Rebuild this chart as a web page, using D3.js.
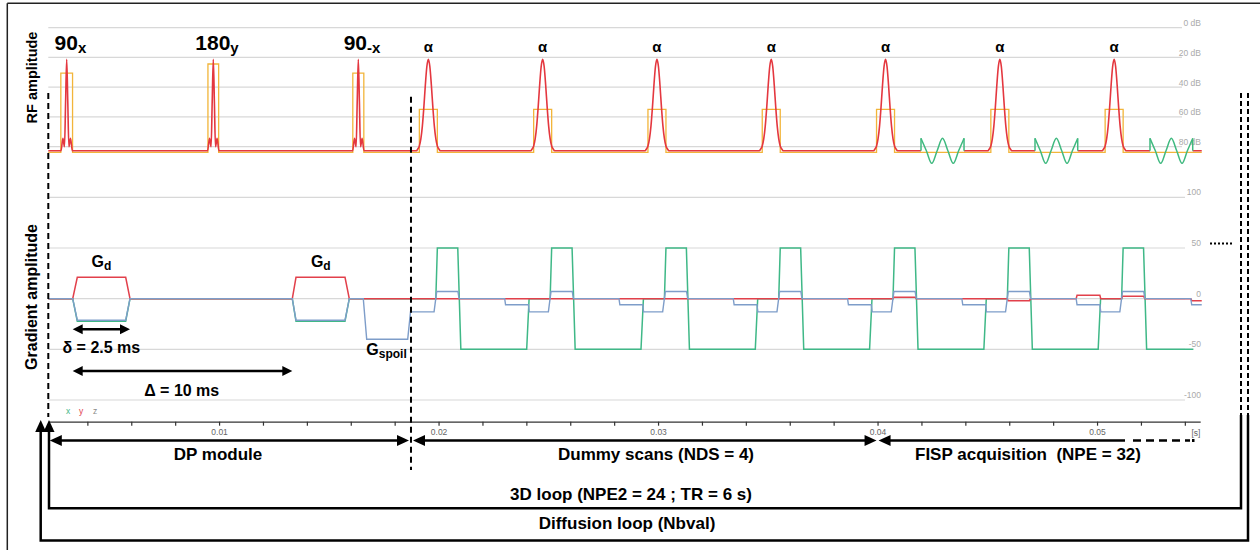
<!DOCTYPE html>
<html><head><meta charset="utf-8">
<script src="https://cdn.jsdelivr.net/npm/d3@7/dist/d3.min.js"></script>
<style>
body{margin:0;background:#fff;}
svg{display:block;font-family:"Liberation Sans",Arial,sans-serif;}
</style></head><body>
<svg id="c" width="1260" height="550"></svg>
<script>
// ================= DATA =================
const timeRange = [0.00222, 0.05470];          // s, visible time window
const timeTicks = [0.004,0.006,0.008,0.010,0.012,0.014,0.016,0.018,0.020,0.022,0.024,0.026,0.028,
                   0.030,0.032,0.034,0.036,0.038,0.040,0.042,0.044,0.046,0.048,0.050,0.052,0.054];
const timeTickLabels = ["","","","0.01","","","","","0.02","","","","","0.03","","","","","0.04","","","","","0.05","",""];
const rfDbTicks = [0,20,40,60,80];
const gradTicks = [100,50,0,-50,-100];

const rfBaseDb = 82.7;       // RF baseline
const gateBaseDb = 83.8;     // gate (orange) baseline
const rfEnd = 0.05477;

// DP module pulses
const dpPulseTimes = [0.003058, 0.009737, 0.016344];
const dpPulseMain = ["90","180","90"];
const dpPulseSub = ["x","y","-x"];
const dpGateTopDb = [30.5, 24.4, 30.5];
const dpGateHalf = [0.000267, 0.000244, 0.000251];
// hard pulse shape (ms offset, dB)
const sincShape = [[-0.26,82.7],[-0.173,74.4],[-0.10,80],[-0.05,50],[0,21.2],[0.05,50],[0.10,80],[0.173,74.4],[0.26,82.7]];

// alpha pulses (dummy + FISP)
const alphaTimes = [0.019535,0.024743,0.029950,0.035157,0.040364,0.045572,0.050779];
const alphaGateTopDb = 54.9;
const alphaGateHalf = 0.00041;
const gaussShape = [[-0.55,82.7],[-0.478,81.5],[-0.41,79.5],[-0.342,74.8],[-0.273,66.2],[-0.205,53.4],[-0.137,38.5],[-0.068,26.1],[0,21.2],
                    [0.068,26.1],[0.137,38.5],[0.205,53.4],[0.273,66.2],[0.342,74.8],[0.41,79.5],[0.478,81.5],[0.55,82.7]];

// ADC windows (FISP acquisition) and their wave (fraction of window, dB)
const adcWindows = [[0.04198,0.04394],[0.047174,0.04912],[0.052413,0.054359]];
const adcWave = [[0,74.4],[0.125,82.7],[0.25,91.2],[0.375,82.7],[0.5,74.4],[0.625,82.7],[0.75,91.2],[0.875,82.7],[1,74.4]];

// Gradients (diffusion lobes Gd)
const gdTimes = [[0.003332,0.003541,0.005746,0.005942],[0.013337,0.013505,0.015738,0.015933]];
const gdAmpX = -22.3, gdAmpY = 21, gdAmpZ = -21.3;
// spoiler
const spoilTimes = [0.016571,0.016726,0.018594,0.018722];
const spoilAmp = -40;
const sliceAmp = -13, rephaseAmp = 7;
// per-TR lobes
const zPre = [null,-6,-6,-6,-6,-6,-6];
const yPre = [0,0,0,0,0,0,3.3];
const yPost = [0,0,0,0,1.5,-2,2.3];
// readout template: ms from alpha, amplitude
const readTemplate = [[0.34,0],[0.41,50],[1.34,50],[1.48,-50],[4.48,-50],[4.59,0]];
const tailTimes = [0.054272,0.054313];
const tailZ = -6, tailY = -2;
const gradEnd = 0.05477, readEnd = 0.05439;
const dpEnd = 0.018744;       // end of DP module
const fispStart = 0.040;

// ================= DRAW =================
const ms = 1e-3;
const svg = d3.select("#c");
const x = d3.scaleLinear().domain(timeRange).range([48.3, 1200.2]);
const yRF = d3.scaleLinear().domain([0, 80]).range([27.7, 146.7]);
const yG = d3.scaleLinear().domain([-100, 100]).range([400, 197.3]);

const C = {rf:"#e4373f", gate:"#f2b53a", adc:"#3fb97f", gx:"#3fb887", gy:"#e2404b", gz:"#7e9dc9", grid:"#d8d8d8", lab:"#aaaaaa"};

// frame
svg.append("line").attr("x1",7.3).attr("x2",1260).attr("y1",3.3).attr("y2",3.3).attr("stroke","#222").attr("stroke-width",1.5);
svg.append("line").attr("x1",7.3).attr("x2",7.3).attr("y1",3.3).attr("y2",550).attr("stroke","#222").attr("stroke-width",1.5);

// grids
const grid = svg.append("g");
rfDbTicks.forEach(d => {
  grid.append("line").attr("x1",x.range()[0]).attr("x2",1182).attr("y1",yRF(d)).attr("y2",yRF(d))
    .attr("stroke",C.grid).attr("stroke-width",1.2);
  grid.append("text").attr("x",1201).attr("y",yRF(d)-1.5).attr("text-anchor","end")
    .attr("font-size",8.5).attr("fill",C.lab).text(d+" dB");
});
gradTicks.forEach(d => {
  grid.append("line").attr("x1",x.range()[0]).attr("x2",1185).attr("y1",yG(d)).attr("y2",yG(d))
    .attr("stroke",C.grid).attr("stroke-width",1.2);
  grid.append("text").attr("x",1201).attr("y",yG(d)-2).attr("text-anchor","end")
    .attr("font-size",8.5).attr("fill",C.lab).text(d);
});

// x axis
const ax = svg.append("g").attr("transform","translate(0,421.7)")
  .call(d3.axisBottom(x).tickValues(timeTicks).tickFormat((d,i)=>timeTickLabels[i]).tickSizeInner(4).tickSizeOuter(0).tickPadding(3));
ax.select(".domain").attr("stroke","#333").attr("stroke-width",1.3);
ax.selectAll(".tick line").attr("stroke","#333").attr("stroke-width",1.2);
ax.selectAll(".tick text").attr("font-size",8.5).attr("fill","#666").attr("font-family","Liberation Sans, Arial, sans-serif");
svg.append("text").attr("x",1196).attr("y",436).attr("text-anchor","middle").attr("font-size",8.5).attr("fill","#666").text("[s]");

// legend x y z
[["x",C.gx,68],["y",C.gy,81],["z","#888",95]].forEach(([t,c,px]) =>
  svg.append("text").attr("x",px).attr("y",414).attr("text-anchor","middle").attr("font-size",8.5).attr("fill",c).text(t));

// ---------- RF ----------
const pulses = dpPulseTimes.map((t,i)=>({t, shape:sincShape, top:dpGateTopDb[i], half:dpGateHalf[i]}))
  .concat(alphaTimes.map(t=>({t, shape:gaussShape, top:alphaGateTopDb, half:alphaGateHalf})));
// gate line
const gatePts = [[timeRange[0], gateBaseDb]];
pulses.forEach(p => gatePts.push([p.t-p.half,gateBaseDb],[p.t-p.half,p.top],[p.t+p.half,p.top],[p.t+p.half,gateBaseDb]));
gatePts.push([rfEnd, gateBaseDb]);
svg.append("path").attr("d", d3.line().x(d=>x(d[0])).y(d=>yRF(d[1]))(gatePts))
  .attr("fill","none").attr("stroke",C.gate).attr("stroke-width",1.3);

// red RF with gaps at ADC
const events = pulses.map(p=>({t:p.t, type:"p", p})).concat(adcWindows.map(w=>({t:w[0], type:"a", w}))).sort((a,b)=>a.t-b.t);
const rfPts = [[timeRange[0], rfBaseDb]];
events.forEach(e => {
  if (e.type==="p") e.p.shape.forEach(([dt,v]) => rfPts.push([e.p.t+dt*ms, v]));
  else { rfPts.push([e.w[0], rfBaseDb], null, [e.w[1], rfBaseDb]); }
});
rfPts.push([rfEnd, rfBaseDb]);
svg.append("path").attr("d", d3.line().defined(d=>d).x(d=>x(d[0])).y(d=>yRF(d[1])).curve(d3.curveMonotoneX)(rfPts))
  .attr("fill","none").attr("stroke",C.rf).attr("stroke-width",1.6);

// ADC
adcWindows.forEach(w => {
  const pts = adcWave.map(([f,v]) => [w[0]+f*(w[1]-w[0]), v]);
  svg.append("path").attr("d", d3.line().x(d=>x(d[0])).y(d=>yRF(d[1])).curve(d3.curveMonotoneX)(pts))
    .attr("fill","none").attr("stroke",C.adc).attr("stroke-width",1.5);
  [w[0],w[1]].forEach(t => svg.append("line").attr("x1",x(t)).attr("x2",x(t)).attr("y1",yRF(rfBaseDb)).attr("y2",yRF(74.4))
    .attr("stroke",C.adc).attr("stroke-width",1.5));
});

// ---------- Gradients ----------
function clip(pts, tEnd){
  const out=[];
  for (let i=0;i<pts.length;i++){
    if (pts[i][0] <= tEnd) out.push(pts[i]);
    else { const p=pts[i-1], q=pts[i]; out.push([tEnd, p[1]+(q[1]-p[1])*(tEnd-p[0])/(q[0]-p[0])]); return out; }
  }
  out.push([tEnd, out[out.length-1][1]]);
  return out;
}
const xPts = [[timeRange[0],0]];
gdTimes.forEach(g => xPts.push([g[0],0],[g[1],gdAmpX],[g[2],gdAmpX],[g[3],0]));
alphaTimes.forEach(a => readTemplate.forEach(([dt,v]) => xPts.push([a+dt*ms, v])));

const yPts = [[timeRange[0],0]];
gdTimes.forEach(g => yPts.push([g[0],0],[g[1],gdAmpY],[g[2],gdAmpY],[g[3],0]));
alphaTimes.forEach((a,i) => {
  yPts.push([a-1.73*ms,0],[a-1.69*ms,yPre[i]],[a-0.65*ms,yPre[i]],[a-0.61*ms,0]);
  yPts.push([a+0.34*ms,0],[a+0.38*ms,yPost[i]],[a+1.35*ms,yPost[i]],[a+1.40*ms,0]);
});
yPts.push([tailTimes[0],0],[tailTimes[1],tailY]);

const zPts = [[timeRange[0],0]];
gdTimes.forEach(g => zPts.push([g[0],0],[g[1],gdAmpZ],[g[2],gdAmpZ],[g[3],0]));
zPts.push([spoilTimes[0],0],[spoilTimes[1],spoilAmp],[spoilTimes[2],spoilAmp],[spoilTimes[3],sliceAmp]);
alphaTimes.forEach((a,i) => {
  if (zPre[i] !== null) zPts.push([a-1.73*ms,0],[a-1.69*ms,zPre[i]],[a-0.65*ms,zPre[i]],[a-0.61*ms,sliceAmp]);
  zPts.push([a+0.26*ms,sliceAmp],[a+0.38*ms,rephaseAmp],[a+1.35*ms,rephaseAmp],[a+1.40*ms,0]);
});
zPts.push([tailTimes[0],0],[tailTimes[1],tailZ]);

const gl = d3.line().x(d=>x(d[0])).y(d=>yG(d[1]));
svg.append("path").attr("d",gl(clip(xPts,readEnd))).attr("fill","none").attr("stroke",C.gx).attr("stroke-width",1.5);
svg.append("path").attr("d",gl(clip(yPts,gradEnd))).attr("fill","none").attr("stroke",C.gy).attr("stroke-width",1.5);
svg.append("path").attr("d",gl(clip(zPts,gradEnd))).attr("fill","none").attr("stroke",C.gz).attr("stroke-width",1.4);

// ---------- annotations ----------
const A = svg.append("g").attr("fill","#000").attr("font-weight","bold");
function subLabel(cx, y, main, sub, size, subSize, anchor, dy){
  const t = A.append("text").attr("x",cx).attr("y",y).attr("text-anchor",anchor).attr("font-size",size);
  t.append("tspan").text(main);
  t.append("tspan").attr("font-size",subSize).attr("dy",dy).text(sub);
}
dpPulseTimes.forEach((t,i) => subLabel(x(t)+3.7, 50, dpPulseMain[i], dpPulseSub[i], 21, 15, "middle", 3));
alphaTimes.forEach(t => A.append("text").attr("x",x(t)).attr("y",51.5).attr("text-anchor","middle").attr("font-size",15).text("α"));
gdTimes.forEach(g => subLabel((x(g[0])+x(g[3]))/2, 267.3, "G", "d", 16, 12, "middle", 3));
subLabel(x(spoilTimes[0])+3, 354.5, "G", "spoil", 16, 12, "start", 3);

// axis titles
A.append("text").attr("transform","translate(36.5,77.5) rotate(-90)").attr("text-anchor","middle").attr("font-size",14.5).text("RF amplitude");
A.append("text").attr("transform","translate(36.5,297) rotate(-90)").attr("text-anchor","middle").attr("font-size",16).text("Gradient amplitude");

function hArrow(x1, x2, y, L, W, sw, left=true, right=true){
  const g = svg.append("g");
  g.append("line").attr("x1",left?x1+L-1:x1).attr("x2",right?x2-L+1:x2).attr("y1",y).attr("y2",y).attr("stroke","#000").attr("stroke-width",sw);
  if (left) g.append("polygon").attr("points",`${x1},${y} ${x1+L},${y-W} ${x1+L},${y+W}`).attr("fill","#000");
  if (right) g.append("polygon").attr("points",`${x2},${y} ${x2-L},${y-W} ${x2-L},${y+W}`).attr("fill","#000");
  return g;
}
hArrow(x(gdTimes[0][0]), x(gdTimes[0][3]), 329.3, 10, 5, 2.5);
A.append("text").attr("x",(x(gdTimes[0][0])+x(gdTimes[0][3]))/2).attr("y",353.3).attr("text-anchor","middle").attr("font-size",16).text("δ = 2.5 ms");
hArrow(x(gdTimes[0][0]), x(gdTimes[1][0]), 371, 10, 5, 2.5);
A.append("text").attr("x",181.7).attr("y",395.5).attr("text-anchor","middle").attr("font-size",16).text("Δ = 10 ms");

// dashed verticals
svg.append("line").attr("x1",x(timeRange[0])).attr("x2",x(timeRange[0])).attr("y1",93).attr("y2",417)
  .attr("stroke","#000").attr("stroke-width",2).attr("stroke-dasharray","6,4");
svg.append("line").attr("x1",x(dpEnd)).attr("x2",x(dpEnd)).attr("y1",96.7).attr("y2",470)
  .attr("stroke","#000").attr("stroke-width",2).attr("stroke-dasharray","6,4");

// bottom arrows
const yB = 440.5;
hArrow(x(timeRange[0])+1.5, x(dpEnd)-2, yB, 12, 5.5, 2.5);
hArrow(x(dpEnd)+2, x(fispStart)-1, yB, 12, 5.5, 2.5);
hArrow(x(fispStart)+1, 1125, yB, 12, 5.5, 2.5, true, false);
svg.append("line").attr("x1",1133).attr("x2",1190).attr("y1",yB).attr("y2",yB).attr("stroke","#000").attr("stroke-width",2.5).attr("stroke-dasharray","8,5");
svg.append("rect").attr("x",1192).attr("y",yB-1.5).attr("width",2.5).attr("height",3).attr("fill","#000");

A.append("text").attr("x",218).attr("y",459.5).attr("text-anchor","middle").attr("font-size",17).text("DP module");
A.append("text").attr("x",656).attr("y",459.5).attr("text-anchor","middle").attr("font-size",17).text("Dummy scans (NDS = 4)");
A.append("text").attr("x",1028).attr("y",459.5).attr("text-anchor","middle").attr("font-size",17).style("white-space","pre").text("FISP acquisition  (NPE = 32)");
A.append("text").attr("x",631).attr("y",499.5).attr("text-anchor","middle").attr("font-size",17).text("3D loop (NPE2 = 24 ; TR = 6 s)");
A.append("text").attr("x",627).attr("y",529).attr("text-anchor","middle").attr("font-size",17).text("Diffusion loop (Nbval)");

// loops
function loop(xl, xr, yb, tip, solidTop){
  svg.append("path").attr("d",`M${xl},${tip+11}V${yb}H${xr}V${solidTop}`).attr("fill","none").attr("stroke","#000").attr("stroke-width",2.5);
  svg.append("polygon").attr("points",`${xl},${tip} ${xl-5.5},${tip+12} ${xl+5.5},${tip+12}`).attr("fill","#000");
  svg.append("line").attr("x1",xr).attr("x2",xr).attr("y1",93).attr("y2",solidTop).attr("stroke","#000").attr("stroke-width",2).attr("stroke-dasharray","5,3");
}
loop(49, 1241, 508.3, 420, 415);
loop(40.7, 1248, 540.5, 420, 415);
svg.append("line").attr("x1",1210).attr("x2",1233).attr("y1",243.5).attr("y2",243.5).attr("stroke","#000").attr("stroke-width",2).attr("stroke-dasharray","2,2");
</script></body></html>
